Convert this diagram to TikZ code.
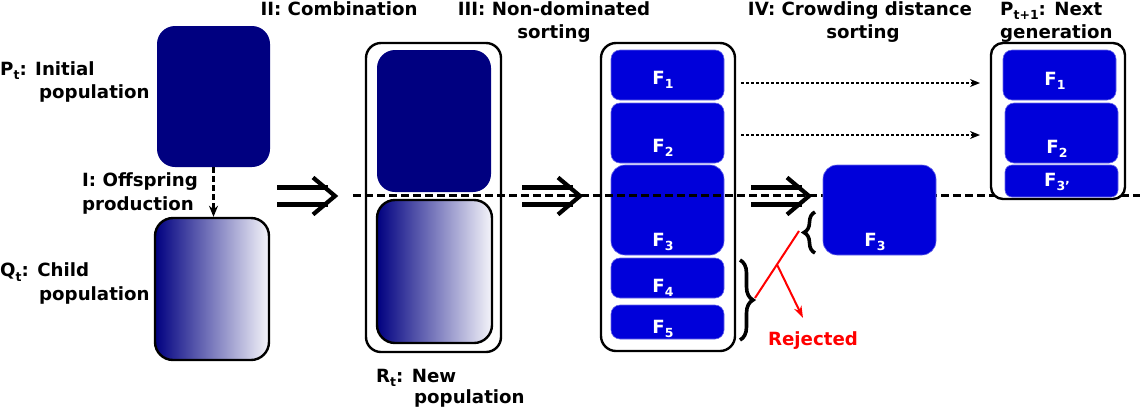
\documentclass[tikz,border=0pt]{standalone}
\usepackage{fontspec}
\setmainfont{DejaVu Sans}
\usetikzlibrary{arrows.meta,decorations.pathreplacing,calc}
\definecolor{navyc}{RGB}{0,0,128}
\definecolor{fblue}{RGB}{0,0,218}
\definecolor{redc}{RGB}{255,0,0}
\newcommand\subs[1]{\raisebox{-0.27em}{\fontsize{12.5}{12.5}\selectfont #1}}
\begin{document}
\begin{tikzpicture}[x=1pt,y=-1pt,
  font=\fontsize{18.2}{23.5}\selectfont\bfseries,
  lbl/.style={inner sep=0pt,anchor=base west},
  ttl/.style={inner sep=0pt,anchor=base},
  flbl/.style={inner sep=0pt,anchor=base,text=white},
  navybox/.style={fill=navyc,draw=none,rounded corners=18pt,inner sep=0pt},
  gradbox/.style={draw=black,line width=2.4pt,rounded corners=18pt,inner sep=0pt,left color=navyc,right color=white!96!navyc},
  outerbox/.style={draw=black,line width=2.4pt,fill=white,rounded corners=15pt,inner sep=0pt},
  fbox/.style={fill=fblue,draw=fblue!60!white,line width=0.6pt,rounded corners=9pt,inner sep=0pt,minimum width=113pt},
  bigfbox/.style={fbox,rounded corners=14pt},
  midline/.style={line width=3pt,dash pattern=on 8pt off 4pt},
  offarrow/.style={line width=3.6pt,dash pattern=on 6pt off 3pt,-{Stealth[length=11pt,width=9pt]}},
  dotarrow/.style={line width=1.5pt,dash pattern=on 3pt off 2pt,-{Stealth[length=10pt,width=8pt]}},
  bracestyle/.style={line width=3.6pt,decorate},
  redline/.style={draw=redc,line width=2pt},
  dbl/.pic={
    \draw[line width=4.2pt] (0,-8.5)--(51,-8.5) (0,8.5)--(51,8.5);
    \draw[line width=4.2pt,line join=miter] (36,-18.5)--(58,0)--(36,18.5);
  }
]
\useasboundingbox (0,0) rectangle (1140,408);

% Stage I
\node[navybox,minimum width=113pt,minimum height=141pt] (pt) at (213.5,96.5) {};
\node[gradbox,minimum width=114pt,minimum height=142pt] (qt) at (212,289) {};
\draw[offarrow] (pt.south) -- (pt.south |- qt.north);

\node[lbl] (ptl1) at (0,75) {P\subs{t}: Initial};
\node[lbl] (ptl2) at (39,98.5) {population};
\node[lbl] (off1) at (82,186.5) {I: Offspring};
\node[lbl] (off2) at (82,210) {production};
\node[lbl] (qtl1) at (0,276.5) {Q\subs{t}: Child};
\node[lbl] (qtl2) at (39,300) {population};

% Stage II
\node[outerbox,minimum width=135pt,minimum height=309pt] (rout) at (433.5,197.5) {};
\node[navybox,minimum width=114pt,minimum height=142pt] (rtop) at (434,121) {};
\node[gradbox,minimum width=115pt,minimum height=143pt] (rbot) at (434.5,271.5) {};
\node[ttl] (t2) at (339,15) {II: Combination};
\node[lbl] (rtl1) at (376,382) {R\subs{t}: New};
\node[lbl] (rtl2) at (414,403.5) {population};

% Stage III
\node[outerbox,minimum width=134pt,minimum height=308pt] (mout) at (668,197) {};
\node[fbox,minimum height=50pt] (f1) at (667.5,75) {};
\node[fbox,minimum height=60pt] (f2) at (667.5,133) {};
\node[bigfbox,minimum height=90pt] (f3) at (667.5,210) {};
\node[fbox,minimum height=40pt] (f4) at (667.5,278) {};
\node[fbox,minimum height=34pt] (f5) at (667.5,322) {};
\node[flbl] (f1l) at (663,84) {F\subs{1}};
\node[flbl] (f2l) at (663,152) {F\subs{2}};
\node[flbl] (f3l) at (663,246) {F\subs{3}};
\node[flbl] (f4l) at (663,292) {F\subs{4}};
\node[flbl] (f5l) at (663,333) {F\subs{5}};
\node[ttl] (t3a) at (554,15) {III: Non-dominated};
\node[ttl] (t3b) at (554,38) {sorting};

% double arrows
\pic at (277,196) {dbl};
\pic at (522,196) {dbl};
\pic at (751,196) {dbl};

% dashed separation line
\coordinate (ls) at (353,195);
\coordinate (le) at (1140,195);
\draw[midline] (ls) -- (le);

% Stage IV
\node[bigfbox,minimum height=90pt] (rf3) at (879.5,210) {};
\node[flbl] (rf3l) at (875,246) {F\subs{3}};
\node[ttl] (t4a) at (860,15) {IV: Crowding distance};
\node[ttl] (t4b) at (863,38) {sorting};

% Next generation
\node[outerbox,rounded corners=12pt,minimum width=134pt,minimum height=156pt] (nout) at (1058,121) {};
\node[fbox,minimum height=50pt] (n1) at (1059.5,75) {};
\node[fbox,minimum height=60pt] (n2) at (1061.5,133) {};
\node[fbox,rounded corners=7pt,minimum height=32pt] (n3) at (1061.5,181) {};
\node[flbl] (n1l) at (1055,85) {F\subs{1}};
\node[flbl] (n2l) at (1057,153) {F\subs{2}};
\node[flbl] (n3l) at (1057,186) {F\subs{3'}};
\node[lbl] (t5a) at (1000,15) {P\subs{t+1}: Next};
\node[lbl] (t5b) at (1000,38) {generation};

% dotted transfer arrows
\coordinate (d1s) at (741,83);
\coordinate (d1e) at (980,83);
\coordinate (d2s) at (741,135);
\coordinate (d2e) at (980,135);
\draw[dotarrow] (d1s) -- (d1e);
\draw[dotarrow] (d2s) -- (d2e);

% braces
\draw[bracestyle,decoration={brace,amplitude=13pt}] (740,260) -- (740,340);
\draw[bracestyle,decoration={brace,amplitude=11pt}] (815,253) -- (815,212);
\coordinate (bt) at (755,298);
\coordinate (st) at (799,231);
\coordinate (rj) at (803,318);
\draw[redline] (bt) -- (st);
\draw[redline,-{Stealth[length=12pt,width=8pt]}] ($(bt)!0.5!(st)$) -- (rj);
\node[ttl,text=redc] (rej) at (813,345) {Rejected};
\end{tikzpicture}
\end{document}
